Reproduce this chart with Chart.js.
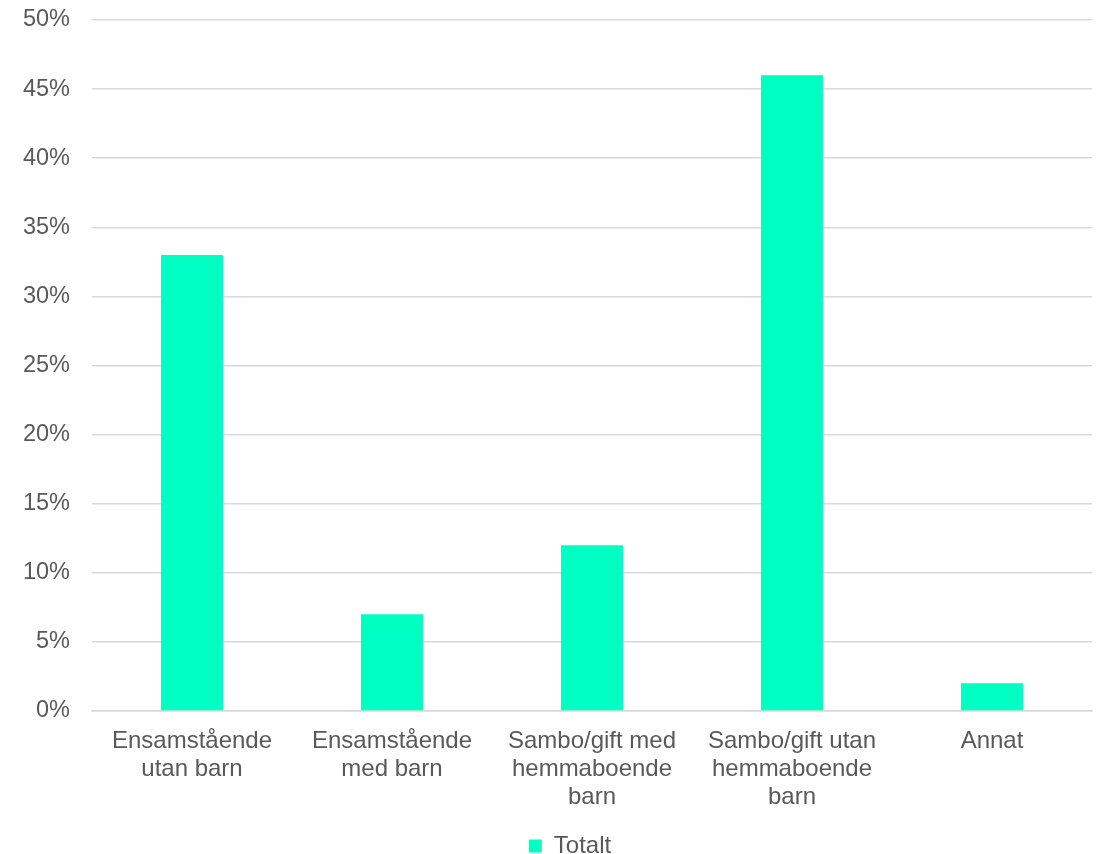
<!DOCTYPE html>
<html>
<head>
<meta charset="utf-8">
<script src="https://cdn.jsdelivr.net/npm/chart.js@4/dist/chart.umd.min.js"></script>
<style>
  html, body { margin: 0; padding: 0; background: #fff; }
  #wrap { width: 1099px; height: 854px; position: relative; }
</style>
</head>
<body>
<div id="wrap"><canvas id="c"></canvas></div>
<script>
// Hushållstyp – andel (%)
const categories = [
  ['Ensamstående', 'utan barn'],
  ['Ensamstående', 'med barn'],
  ['Sambo/gift med', 'hemmaboende', 'barn'],
  ['Sambo/gift utan', 'hemmaboende', 'barn'],
  ['Annat']
];
const seriesName = 'Totalt';
const totalt = [33, 7, 12, 46, 2];
const yTicks = [0, 5, 10, 15, 20, 25, 30, 35, 40, 45, 50];

const textColor = '#595959';
const gridColor = '#d9d9d9';
const barColor = '#00ffc3';
const fontFamily = '"Liberation Sans", Arial, sans-serif';

// nudge the legend sideways after layout
const legendShift = {
  id: 'legendShift',
  afterLayout(chart, args, opts) {
    const lg = chart.legend;
    if (lg) { lg.left += opts.dx; lg.right += opts.dx; }
  }
};

new Chart(document.getElementById('c'), {
  type: 'bar',
  data: {
    labels: categories,
    datasets: [{
      label: seriesName,
      data: totalt,
      backgroundColor: barColor,
      borderWidth: 0,
      barPercentage: 0.62,
      categoryPercentage: 0.5
    }]
  },
  plugins: [legendShift],
  options: {
    responsive: true,
    maintainAspectRatio: false,
    animation: false,
    layout: { padding: { top: 20, right: 7, left: 0, bottom: -14 } },
    scales: {
      x: {
        grid: { display: false, drawTicks: false },
        border: { display: true, color: gridColor, width: 1.5 },
        ticks: {
          color: textColor,
          font: { family: fontFamily, size: 24, lineHeight: 1.15 },
          padding: 17,
          maxRotation: 0,
          autoSkip: false
        },
        afterFit: (s) => { s.height = 121; }
      },
      y: {
        min: 0,
        max: 50,
        afterBuildTicks: (s) => { s.ticks = yTicks.map(v => ({ value: v })); },
        grid: { color: gridColor, lineWidth: 1.5, drawTicks: false },
        border: { display: false },
        ticks: {
          color: textColor,
          font: { family: fontFamily, size: 23.5 },
          padding: 22,
          callback: (v) => v + '%'
        },
        afterFit: (s) => { s.width = 92; s.paddingTop = 0; s.paddingBottom = 0; }
      }
    },
    plugins: {
      legendShift: { dx: 24 },
      legend: {
        position: 'bottom',
        labels: {
          color: textColor,
          font: { family: fontFamily, size: 24 },
          boxWidth: 13,
          boxHeight: 13,
          padding: 2
        }
      },
      tooltip: { enabled: false }
    }
  }
});
</script>
</body>
</html>
